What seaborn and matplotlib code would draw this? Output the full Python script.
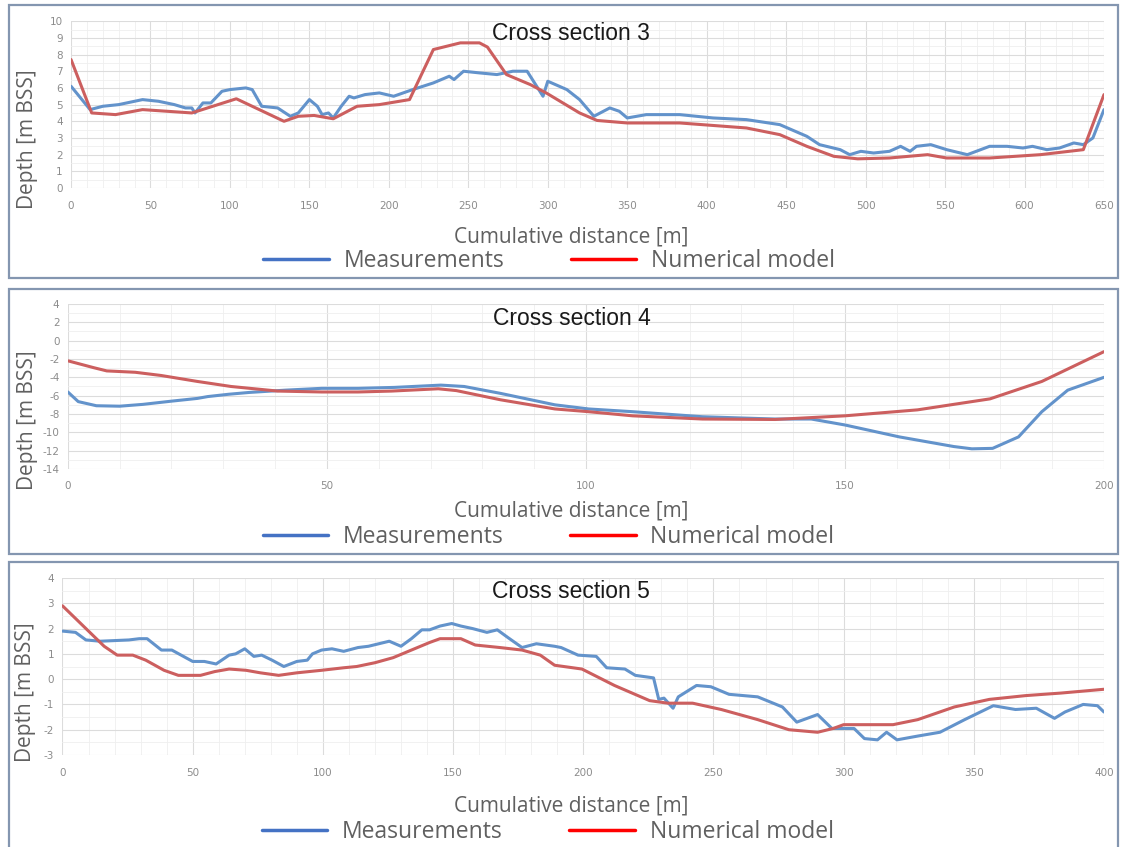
import matplotlib
matplotlib.use("Agg")
import matplotlib.pyplot as plt
import seaborn as sns
from matplotlib.lines import Line2D
from matplotlib.patches import Rectangle
from matplotlib.ticker import MultipleLocator

# cross section 3
cs3_meas_x = [0, 12, 20, 30, 45, 55, 65, 72, 76, 78, 83, 88, 95, 100, 110, 114, 120, 130, 138, 143,
              150, 155, 158, 162, 165, 170, 175, 178, 185, 194, 203, 215, 228, 238, 241, 247, 257, 268, 278, 287,
              293, 297, 300, 312, 320, 329, 339, 345, 350, 362, 383, 404, 425, 446, 463, 471, 484, 490, 497, 505,
              515, 522, 528, 532, 541, 551, 564, 578, 589, 599, 605, 614, 622, 631, 637, 643, 650]
cs3_meas_y = [6.1, 4.7, 4.9, 5.0, 5.3, 5.2, 5.0, 4.8, 4.8, 4.5, 5.1, 5.1, 5.8, 5.9, 6.0, 5.9, 4.9, 4.8, 4.3, 4.5,
              5.3, 4.9, 4.4, 4.5, 4.2, 4.9, 5.5, 5.4, 5.6, 5.7, 5.5, 5.9, 6.3, 6.7, 6.5, 7.0, 6.9, 6.8, 7.0, 7.0,
              6.1, 5.5, 6.4, 5.9, 5.3, 4.3, 4.8, 4.6, 4.2, 4.4, 4.4, 4.2, 4.1, 3.8, 3.1, 2.6, 2.3, 2.0, 2.2, 2.1,
              2.2, 2.5, 2.2, 2.5, 2.6, 2.3, 2.0, 2.5, 2.5, 2.4, 2.5, 2.3, 2.4, 2.7, 2.6, 3.0, 4.7]
cs3_model_x = [0, 13, 28, 45, 76, 104, 134, 143, 153, 165, 180, 194, 213, 228, 245, 257, 262, 274,
               289, 299, 320, 331, 350, 383, 425, 446, 463, 480, 495, 515, 539, 551, 578, 610, 637, 650]
cs3_model_y = [7.7, 4.5, 4.4, 4.7, 4.5, 5.35, 4.0, 4.3, 4.35, 4.15, 4.9, 5.0, 5.3, 8.3, 8.7, 8.7, 8.45, 6.8,
               6.2, 5.7, 4.5, 4.05, 3.9, 3.9, 3.6, 3.2, 2.5, 1.9, 1.75, 1.8, 2.0, 1.8, 1.8, 2.0, 2.3, 5.6]

# cross section 4
cs4_meas_x = [0, 2, 5.5, 10, 14.5, 20, 25, 27, 31, 35, 42, 49, 56, 63, 72, 76.5, 83.5, 94, 100.5, 109,
              122.5, 136.5, 143.5, 150, 160.5, 171, 174.5, 178.5, 183.5, 188, 193, 200]
cs4_meas_y = [-5.6, -6.65, -7.1, -7.15, -6.95, -6.6, -6.3, -6.1, -5.85, -5.65, -5.4, -5.2, -5.2, -5.1, -4.85, -5.0,
              -5.75, -7.0, -7.45, -7.75, -8.3, -8.55, -8.55, -9.2, -10.5, -11.55, -11.8, -11.75, -10.5, -7.75, -5.4, -4.0]
cs4_model_x = [0, 5, 7.5, 13, 18, 25, 31.5, 40.5, 49, 56, 62.5, 71.5, 75, 83.5, 94, 100.5, 109, 122.5,
               136.5, 150, 164, 178, 188, 200]
cs4_model_y = [-2.2, -2.95, -3.3, -3.45, -3.8, -4.45, -5.0, -5.5, -5.6, -5.6, -5.5, -5.25, -5.45, -6.45, -7.45,
               -7.75, -8.2, -8.55, -8.6, -8.2, -7.55, -6.35, -4.45, -1.2]

# cross section 5
cs5_meas_x = [0, 5, 9, 14.5, 25.5, 29.5, 32.5, 38, 42, 50, 54.5, 59, 64, 66.5, 70, 73.5, 76.5, 80.5, 85, 90,
              94, 96, 99.5, 103.5, 108, 113.5, 117.5, 121.5, 125.5, 130, 134, 138, 141, 145, 149.5, 153, 157.5, 163,
              167, 171, 176.5, 182, 189, 191.5, 198, 205, 209, 216, 220, 227, 229, 231, 234.5, 236.5, 243.5, 249,
              256, 267, 276.5, 282, 290, 295.5, 304, 308, 313, 316.5, 320.5, 328.5, 337, 346.5, 357.5, 366, 374,
              381, 385, 392, 397.5, 400]
cs5_meas_y = [1.9, 1.85, 1.55, 1.5, 1.55, 1.6, 1.6, 1.15, 1.15, 0.7, 0.7, 0.6, 0.95, 1.0, 1.2, 0.9, 0.95, 0.75, 0.5, 0.7,
              0.75, 1.0, 1.15, 1.2, 1.1, 1.25, 1.3, 1.4, 1.5, 1.3, 1.6, 1.95, 1.95, 2.1, 2.2, 2.1, 2.0, 1.85,
              1.95, 1.65, 1.25, 1.4, 1.3, 1.25, 0.95, 0.9, 0.45, 0.4, 0.15, 0.05, -0.8, -0.75, -1.15, -0.7, -0.25, -0.3,
              -0.6, -0.7, -1.1, -1.7, -1.4, -1.95, -1.95, -2.35, -2.4, -2.1, -2.4, -2.25, -2.1, -1.6, -1.05, -1.2, -1.15,
              -1.55, -1.3, -1.0, -1.05, -1.3]
cs5_model_x = [0, 5, 10, 16, 21, 27, 32, 39, 44.5, 53, 58.5, 64, 70.5, 76, 83, 90, 99.5, 108, 113, 120, 127, 134,
               141, 145, 153, 158.5, 168, 176.5, 183.5, 189, 199.5, 212, 225.5, 232.5, 242, 253, 267, 279, 290, 296,
               300, 319, 328.5, 342.5, 356, 370, 383.5, 400]
cs5_model_y = [2.9, 2.4, 1.9, 1.3, 0.95, 0.95, 0.75, 0.35, 0.15, 0.15, 0.3, 0.4, 0.35, 0.25, 0.15, 0.25, 0.35, 0.45,
               0.5, 0.65, 0.85, 1.15, 1.45, 1.6, 1.6, 1.35, 1.25, 1.15, 0.95, 0.55, 0.4, -0.25, -0.85, -0.95, -0.95,
               -1.2, -1.6, -2.0, -2.1, -1.95, -1.8, -1.8, -1.6, -1.1, -0.8, -0.65, -0.55, -0.4]

titles = ["Cross section 3", "Cross section 4", "Cross section 5"]
legend_labels = ["Measurements", "Numerical model"]

BLUE = "#6393cb"
RED = "#cc5f5f"
GREY = "#606060"

sns.set_style("white")
plt.rcParams["axes.unicode_minus"] = False

fig = plt.figure(figsize=(11.24, 8.47), dpi=100)

# axes rect, border rect, xmax, ylim, y major, y minor, title y, ylabel (x,y), xlabel y, legend (x,y)
layout = [
    dict(rect=[0.0632, 0.778, 0.919, 0.197], box=(0.6718, 0.3223), xmax=650, ylim=(0, 10), ymaj=1, ymin=0.5,
         ty=0.928, tx=0.484, yl=(-0.042, 0.293), xl=-0.228, leg=(0.463, -0.437)),
    dict(rect=[0.0604, 0.4463, 0.9218, 0.1948], box=(0.3459, 0.3129), xmax=200, ylim=(-14, 4), ymaj=2, ymin=1,
         ty=0.915, tx=0.486, yl=(-0.039, 0.297), xl=-0.194, leg=(0.464, -0.412)),
    dict(rect=[0.0556, 0.1086, 0.9266, 0.209], box=(-0.01, 0.3465), xmax=400, ylim=(-3, 4), ymaj=1, ymin=0.5,
         ty=0.921, tx=0.488, yl=(-0.036, 0.356), xl=-0.226, leg=(0.466, -0.435)),
]
series = [(cs3_meas_x, cs3_meas_y, cs3_model_x, cs3_model_y),
          (cs4_meas_x, cs4_meas_y, cs4_model_x, cs4_model_y),
          (cs5_meas_x, cs5_meas_y, cs5_model_x, cs5_model_y)]

for cfg, (mx, my, nx, ny), title in zip(layout, series, titles):
    # panel frame
    fig.patches.append(Rectangle((0.008, cfg["box"][0]), 0.9867, cfg["box"][1], transform=fig.transFigure,
                                 fill=False, edgecolor="#8496b0", lw=1.6, zorder=0))
    ax = fig.add_axes(cfg["rect"])
    sns.lineplot(x=mx, y=my, ax=ax, color=BLUE, lw=2.2)
    sns.lineplot(x=nx, y=ny, ax=ax, color=RED, lw=2.2)
    ax.set_xlim(0, cfg["xmax"])
    ax.set_ylim(*cfg["ylim"])
    ax.xaxis.set_major_locator(MultipleLocator(50))
    ax.xaxis.set_minor_locator(MultipleLocator(10))
    ax.yaxis.set_major_locator(MultipleLocator(cfg["ymaj"]))
    ax.yaxis.set_minor_locator(MultipleLocator(cfg["ymin"]))
    ax.grid(which="major", color="#dcdcdc", lw=0.8)
    ax.grid(which="minor", color="#efefef", lw=0.6)
    for s in ax.spines.values():
        s.set_visible(False)
    ax.tick_params(which="both", length=0, labelsize=7.5, labelcolor="#8c8c8c")
    ax.tick_params(axis="x", pad=9)
    ax.tick_params(axis="y", pad=6)

    ax.text(cfg["tx"], cfg["ty"], title, transform=ax.transAxes, ha="center", va="center",
            fontsize=16.5, family="Liberation Sans", color="#1a1a1a")
    ax.set_xlabel("Cumulative distance [m]", fontsize=15, family="Open Sans", color=GREY)
    ax.xaxis.set_label_coords(cfg["tx"], cfg["xl"])
    ax.set_ylabel("")
    ax.text(cfg["yl"][0], cfg["yl"][1], "Depth [m BSS]", transform=ax.transAxes, rotation=90,
            ha="center", va="center", fontsize=15, family="Open Sans", color=GREY)

    handles = [Line2D([0], [0], color="#4472c4", lw=2.5), Line2D([0], [0], color="#ff0000", lw=2.5)]
    ax.legend(handles, legend_labels, ncol=2, loc="center", bbox_to_anchor=cfg["leg"], frameon=False,
              prop={"family": "Open Sans", "size": 16.5}, labelcolor=GREY, handlelength=2.85,
              handletextpad=0.65, columnspacing=2.9)

fig.savefig("out.png", dpi=100)
